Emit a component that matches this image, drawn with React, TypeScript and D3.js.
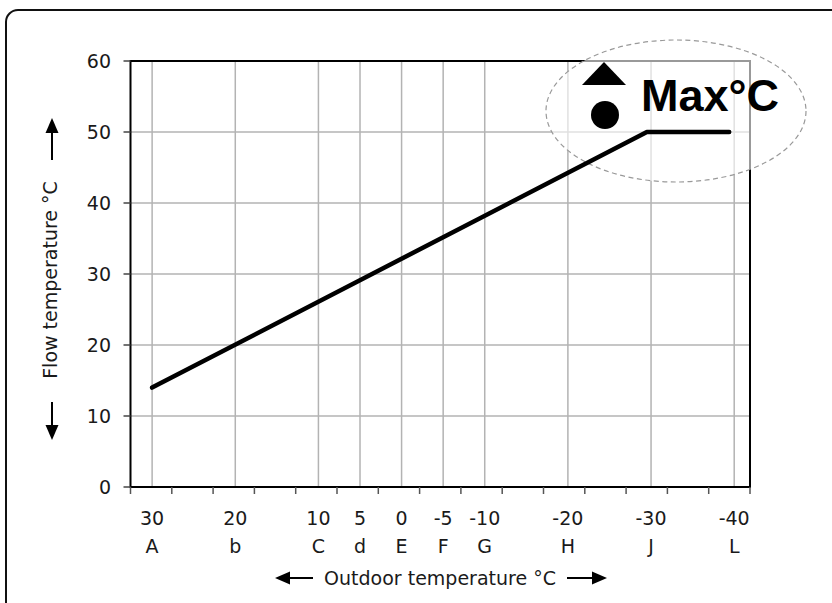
import * as d3 from "d3";
import { useEffect, useRef } from "react";

// outdoor temperature labels and their curve letters
const outdoorTemps = [30, 20, 10, 5, 0, -5, -10, -20, -30, -40];
const curveLetters = ["A", "b", "C", "d", "E", "F", "G", "H", "J", "L"];
const flowTicks = [0, 10, 20, 30, 40, 50, 60];

// heating curve (outdoor °C -> flow °C)
const curveOutdoor = [30, -29.5, -39.4];
const curveFlow = [14, 50, 50];

const FONT = "DejaVu Sans, sans-serif";

export default function App() {
    const ref = useRef<SVGSVGElement | null>(null);

    useEffect(() => {
        if (!ref.current) return;
        const svg = d3.select(ref.current);
        svg.selectAll("*").remove();

        const x = d3.scaleLinear().domain([32.6, -41.9]).range([130.5, 750]);
        const y = d3.scaleLinear().domain([0, 60]).range([487, 61]);
        // unlabeled tick marks: 15 equal slots along the axis
        const slot = d3.scaleLinear().domain([0, 15]).range(x.range());

        // outer frame (runs off the page at right/bottom)
        svg.append("rect")
            .attr("x", 6).attr("y", 10)
            .attr("width", 900).attr("height", 700)
            .attr("rx", 12)
            .attr("fill", "none")
            .attr("stroke", "#111")
            .attr("stroke-width", 2);

        const g = svg.append("g").attr("font-family", FONT).attr("font-size", 19);

        // grid
        g.selectAll("line.vgrid")
            .data(outdoorTemps)
            .join("line")
            .attr("class", "vgrid")
            .attr("x1", d => x(d)).attr("x2", d => x(d))
            .attr("y1", y(60)).attr("y2", y(0))
            .attr("stroke", "#b3b3b3")
            .attr("stroke-width", 1.5);

        g.selectAll("line.hgrid")
            .data(flowTicks.slice(1, -1))
            .join("line")
            .attr("class", "hgrid")
            .attr("x1", x.range()[0]).attr("x2", x.range()[1])
            .attr("y1", d => y(d)).attr("y2", d => y(d))
            .attr("stroke", "#b3b3b3")
            .attr("stroke-width", 1.5);

        // plot frame
        g.append("rect")
            .attr("x", x.range()[0]).attr("y", y(60))
            .attr("width", x.range()[1] - x.range()[0])
            .attr("height", y(0) - y(60))
            .attr("fill", "none")
            .attr("stroke", "#000")
            .attr("stroke-width", 2);

        // y ticks + labels
        g.selectAll("line.ytick")
            .data(flowTicks)
            .join("line")
            .attr("class", "ytick")
            .attr("x1", x.range()[0] - 7).attr("x2", x.range()[0])
            .attr("y1", d => y(d)).attr("y2", d => y(d))
            .attr("stroke", "#444")
            .attr("stroke-width", 1.5);

        g.selectAll("text.ylab")
            .data(flowTicks)
            .join("text")
            .attr("class", "ylab")
            .attr("x", 111)
            .attr("y", d => y(d))
            .attr("text-anchor", "end")
            .attr("dominant-baseline", "central")
            .attr("fill", "#1a1a1a")
            .text(d => d);

        // x ticks
        g.selectAll("line.xtick")
            .data(d3.range(16))
            .join("line")
            .attr("class", "xtick")
            .attr("x1", d => slot(d)).attr("x2", d => slot(d))
            .attr("y1", y(0)).attr("y2", y(0) + 7)
            .attr("stroke", "#555")
            .attr("stroke-width", 1.5);

        g.selectAll("text.xlab")
            .data(outdoorTemps)
            .join("text")
            .attr("class", "xlab")
            .attr("x", d => x(d))
            .attr("y", 525)
            .attr("text-anchor", "middle")
            .attr("fill", "#1a1a1a")
            .text(d => d);

        g.selectAll("text.letter")
            .data(curveLetters)
            .join("text")
            .attr("class", "letter")
            .attr("x", (_, i) => x(outdoorTemps[i]))
            .attr("y", 553)
            .attr("text-anchor", "middle")
            .attr("fill", "#1a1a1a")
            .text(d => d);

        // axis titles with arrows
        g.append("text")
            .attr("x", 440).attr("y", 585)
            .attr("text-anchor", "middle")
            .attr("fill", "#1a1a1a")
            .text("Outdoor temperature °C");

        const arrow = (x1: number, y1: number, x2: number, y2: number) => {
            // shaft from (x1,y1) to head tip (x2,y2)
            const dx = x2 - x1, dy = y2 - y1;
            const len = Math.hypot(dx, dy);
            const ux = dx / len, uy = dy / len;
            const hl = 15, hw = 6.5;
            const bx = x2 - ux * hl, by = y2 - uy * hl;
            g.append("line")
                .attr("x1", x1).attr("y1", y1).attr("x2", bx).attr("y2", by)
                .attr("stroke", "#000").attr("stroke-width", 2);
            g.append("path")
                .attr("d", `M${x2},${y2}L${bx - uy * hw},${by + ux * hw}L${bx + uy * hw},${by - ux * hw}Z`)
                .attr("fill", "#000");
        };
        arrow(313, 578, 275, 578);
        arrow(567, 578, 607, 578);
        arrow(52, 160, 52, 118);
        arrow(52, 402, 52, 440);

        g.append("text")
            .attr("transform", "translate(57,280) rotate(-90)")
            .attr("text-anchor", "middle")
            .attr("fill", "#1a1a1a")
            .text("Flow temperature °C");

        // Max°C callout
        g.append("ellipse")
            .attr("cx", 676).attr("cy", 111)
            .attr("rx", 130).attr("ry", 71)
            .attr("fill", "#fff")
            .attr("fill-opacity", 0.6)
            .attr("stroke", "#999")
            .attr("stroke-width", 1.2)
            .attr("stroke-dasharray", "5,3.5");

        // curve
        const line = d3.line<number>()
            .x((_, i) => x(curveOutdoor[i]))
            .y(d => y(d));
        g.append("path")
            .datum(curveFlow)
            .attr("d", line)
            .attr("fill", "none")
            .attr("stroke", "#000")
            .attr("stroke-width", 4.5)
            .attr("stroke-linecap", "round")
            .attr("stroke-linejoin", "round");

        g.append("path")
            .attr("d", "M604,62L626,85L582,85Z")
            .attr("fill", "#000");
        g.append("circle")
            .attr("cx", 605).attr("cy", 115).attr("r", 14)
            .attr("fill", "#000");
        g.append("text")
            .attr("x", 641).attr("y", 111)
            .attr("font-family", "Liberation Sans, Arial, sans-serif")
            .attr("font-weight", "bold")
            .attr("font-size", 45)
            .attr("fill", "#000")
            .text("Max°C");
    }, []);

    return <svg ref={ref} width={832} height={603} style={{ position: "absolute", left: 0, top: 0 }} />;
}
